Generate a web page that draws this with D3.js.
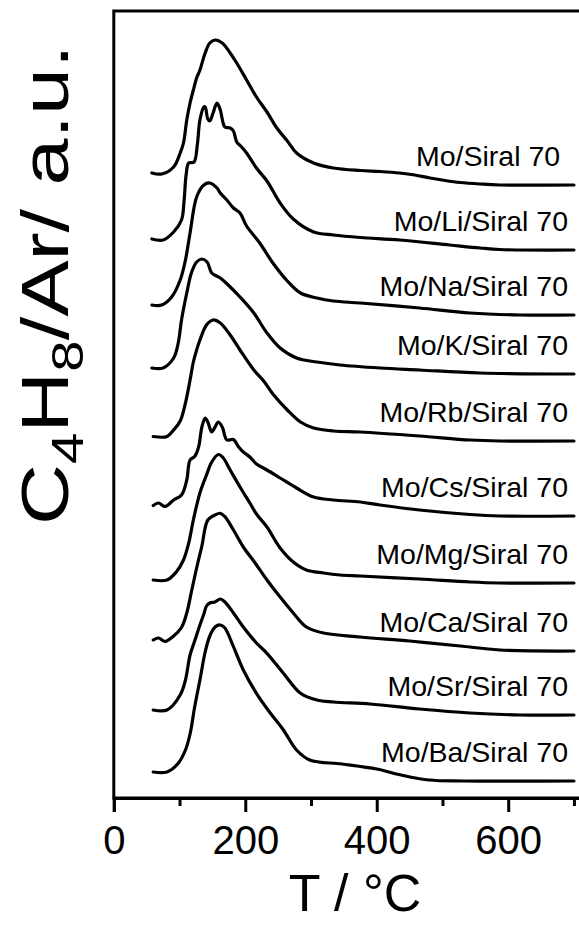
<!DOCTYPE html>
<html>
<head>
<meta charset="utf-8">
<script src="https://cdn.jsdelivr.net/npm/d3@7"></script>
<style>
  html, body { margin: 0; padding: 0; background: #fff; }
  svg { display: block; }
  text { font-family: "Liberation Sans", Arial, sans-serif; fill: #000; }
</style>
</head>
<body>
<svg id="chart" width="579" height="926"></svg>
<script>
// ---------- data ----------
const categories = ["Mo/Siral 70 ", "Mo/Li/Siral 70", "Mo/Na/Siral 70", "Mo/K/Siral 70", "Mo/Rb/Siral 70",
                    "Mo/Cs/Siral 70", "Mo/Mg/Siral 70", "Mo/Ca/Siral 70", "Mo/Sr/Siral 70", "Mo/Ba/Siral 70"];

const tSiral = [58, 73, 91, 101, 106, 111, 116, 121, 126, 131, 139, 146, 154, 165, 177, 187, 202, 217, 233, 248, 264, 278, 304, 334, 375, 405, 435, 458, 481, 504, 527, 557, 587, 700];
const vSiral = [626, 625, 632, 646, 656, 679, 696, 709, 721, 729, 746, 756, 759, 756, 746, 736, 719, 702, 687, 671, 658, 646, 636, 631, 628.5, 627.5, 626, 624, 621, 618.5, 616.5, 615, 614, 614];

const tLi = [58, 75, 91, 103, 107, 110, 114, 122, 127, 131, 137, 139, 143, 146, 151, 157, 162, 169, 177, 182, 187, 193, 202, 217, 233, 253, 273, 304, 334, 375, 435, 511, 557, 587, 700];
const vLi = [560, 559, 567, 579, 599, 624, 636, 637, 654, 679, 692, 692, 680, 678, 686, 696, 689, 672, 671, 668, 657, 653, 646, 631, 618, 596, 580, 567, 564, 561.5, 559, 554, 551, 549.5, 549];

const tNa = [58, 73, 88, 101, 109, 116, 126, 137, 146, 157, 162, 172, 182, 192, 202, 222, 242, 264, 284, 309, 334, 375, 465, 542, 618, 700];
const vNa = [494, 494, 502, 519, 539, 566, 602, 614, 616, 611, 606, 599, 591, 586, 573, 556, 536, 518, 506, 501, 498, 496, 491, 486, 484, 484];

const tK = [58, 75, 91, 98, 103, 111, 118, 126, 134, 142, 149, 162, 174, 192, 213, 233, 253, 278, 309, 344, 405, 465, 557, 700];
const vK = [431, 431, 441, 456, 479, 506, 526, 537, 540, 537, 526, 521, 514, 502, 486, 466, 451, 441, 437, 434, 431, 429, 426, 425];

const tRb = [60, 81, 91, 101, 109, 116, 121, 126, 131, 141, 151, 162, 177, 192, 213, 228, 242, 264, 284, 304, 334, 375, 465, 542, 587, 700];
const vRb = [362.5, 362.5, 369, 378, 396, 419, 437, 449, 459, 474, 479, 476, 464, 449, 429, 418, 405, 389, 377, 371, 368, 367, 363, 359, 358, 358];

const tCs = [60, 68, 78, 91, 103, 111, 116, 123, 129, 134, 139, 143, 149, 154, 159, 165, 172, 182, 190, 197, 207, 217, 233, 253, 278, 304, 334, 375, 405, 465, 542, 587, 700];
const vCs = [293.5, 296, 292.5, 299, 304, 319, 339, 342.5, 352, 372, 381, 377, 367, 372, 377, 372, 359, 359.5, 352, 347, 342, 335, 329, 321, 311, 302, 299, 297, 294, 289, 284.5, 283, 283];

const tMg = [60, 81, 95, 106, 114, 121, 131, 141, 149, 159, 166, 177, 192, 207, 217, 233, 253, 273, 293, 319, 344, 375, 465, 542, 587, 700];
const vMg = [219, 219, 227, 239, 256, 279, 306, 324, 337, 344.5, 341.5, 329, 312, 296, 285, 272, 251, 237, 229, 226, 224, 223, 220, 217, 216, 216];

const tCa = [60, 68, 78, 91, 103, 111, 118, 126, 134, 143, 154, 162, 169, 182, 197, 215, 233, 253, 273, 293, 319, 375, 450, 527, 587, 700];
const vCa = [159, 161, 157.5, 163, 171.5, 186, 207, 231, 253, 279, 284, 285.7, 282.3, 269, 252, 236, 219, 202, 186, 172, 166, 162, 158, 153, 149, 148];

const tSr = [60, 81, 101, 109, 116, 123, 131, 137, 141, 146, 154, 162, 169, 182, 197, 217, 233, 258, 284, 309, 334, 390, 465, 542, 618, 700];
const vSr = [89, 89, 104, 119, 144, 158, 174, 185, 193, 196, 197, 200, 197, 186, 172, 156, 145.7, 125.7, 105.7, 99, 97, 95, 90, 86, 84, 84];

const tBa = [60, 81, 98, 109, 116, 123, 131, 139, 146, 154, 162, 169, 182, 197, 217, 238, 258, 278, 298, 347, 400, 437, 480, 532, 700];
const vBa = [27, 27, 35.7, 49, 65, 92, 119, 147, 163, 172, 174, 171, 152.3, 129, 105.7, 86, 69, 49, 39, 35, 30, 24, 19, 18, 18];

const xMajorTicks = [0, 200, 400, 600];
const xMinorTicks = [100, 300, 500, 700];
const xTitle = "T / °C";

const seriesT = [tSiral, tLi, tNa, tK, tRb, tCs, tMg, tCa, tSr, tBa];
const seriesV = [vSiral, vLi, vNa, vK, vRb, vCs, vMg, vCa, vSr, vBa];

// ---------- layout ----------
const svg = d3.select("#chart");
const mLeft = 113.8, mRight = 587.1, mTop = 11, mBottom = 798;

const x = d3.scaleLinear().domain([0, 720]).range([mLeft, mRight]);
const y = d3.scaleLinear().domain([0, 787]).range([mBottom + 1, mTop + 1]);

// frame
svg.append("rect")
  .attr("x", mLeft).attr("y", mTop)
  .attr("width", mRight - mLeft).attr("height", mBottom - mTop)
  .attr("fill", "none").attr("stroke", "#000").attr("stroke-width", 3);

// x axis major
const axisMajor = d3.axisBottom(x).tickValues(xMajorTicks).tickSize(14).tickFormat(d3.format("d"));
const gx = svg.append("g").attr("transform", `translate(0,${mBottom})`).call(axisMajor);
gx.select(".domain").attr("stroke-width", 3);
gx.selectAll(".tick line").attr("stroke-width", 3);
gx.selectAll(".tick text").attr("font-size", 40).attr("font-family", "Liberation Sans, Arial, sans-serif")
  .attr("y", 0).attr("dy", 0).attr("transform", "translate(0,56)");

// minor ticks
const axisMinor = d3.axisBottom(x).tickValues(xMinorTicks).tickSize(8).tickFormat("");
const gm = svg.append("g").attr("transform", `translate(0,${mBottom})`).call(axisMinor);
gm.select(".domain").remove();
gm.selectAll(".tick line").attr("stroke-width", 3);

// curves
const line = d3.line()
  .x(d => x(d[0]))
  .y(d => y(d[1]))
  .curve(d3.curveCatmullRom.alpha(0.5));

seriesT.forEach((ts, i) => {
  const pts = ts.map((t, j) => [t, seriesV[i][j]]);
  svg.append("path")
    .attr("d", line(pts))
    .attr("fill", "none")
    .attr("stroke", "#000")
    .attr("stroke-width", 3.2)
    .attr("stroke-linejoin", "round")
    .attr("stroke-linecap", "round");
  const last = pts[pts.length - 1];
  svg.append("text")
    .attr("x", 568)
    .attr("y", y(last[1]) - 19)
    .attr("text-anchor", "end")
    .attr("font-size", 28.5)
    .style("white-space", "pre")
    .text(categories[i]);
});

// x title
svg.append("text")
  .attr("x", 355).attr("y", 911)
  .attr("text-anchor", "middle")
  .attr("font-size", 52)
  .text(xTitle);

// y title
const yt = svg.append("text")
  .attr("transform", "translate(68,525) rotate(-90) scale(1.28,1)")
  .attr("text-anchor", "start")
  .attr("font-size", 66);
yt.append("tspan").text("C");
yt.append("tspan").attr("font-size", 44).attr("dy", 15).text("4");
yt.append("tspan").attr("dy", -15).text("H");
yt.append("tspan").attr("font-size", 44).attr("dy", 15).text("8");
yt.append("tspan").attr("dy", -15).text("/Ar/ a.u.");
</script>
</body>
</html>
